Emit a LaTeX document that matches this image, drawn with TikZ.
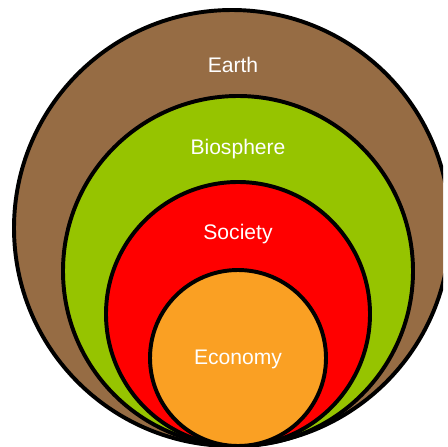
\documentclass[tikz,border=0pt]{standalone}
\usepackage{fontspec}
\setmainfont{Liberation Sans}
\definecolor{earthbrown}{RGB}{150,108,68}
\definecolor{biogreen}{RGB}{150,196,0}
\definecolor{socred}{RGB}{255,0,0}
\definecolor{econorange}{RGB}{250,160,35}

\begin{document}
\begin{tikzpicture}[x=0.025cm, y=-0.025cm,
		ring/.style={draw=black, line width=2.8pt},
		ringtext/.style={text=white, font=\fontsize{15}{18}\selectfont}]
			\useasboundingbox (0, 0) rectangle (447, 447);
			\coordinate (bottomleft) at (0, 447);
			\coordinate (topright) at (443, 0);
			
			\begin{scope}
			\clip (bottomleft) rectangle (topright);
			
			\filldraw[ring, fill=earthbrown] (232, 228) circle[radius=218];
			\filldraw[ring, fill=biogreen] (238, 271) circle[radius=175];
			\filldraw[ring, fill=socred] (238, 314) circle[radius=132];
			\filldraw[ring, fill=econorange] (238, 358) circle[radius=88];
			\end{scope}
			
			\node[ringtext] (earth) at (233, 65) {Earth};
			\node[ringtext] (biosphere) at (238, 149) {Biosphere};
			\node[ringtext] (society) at (238, 234) {Society};
			\node[ringtext] (economy) at (238, 359) {Economy};
			
		\end{tikzpicture}
\end{document}
